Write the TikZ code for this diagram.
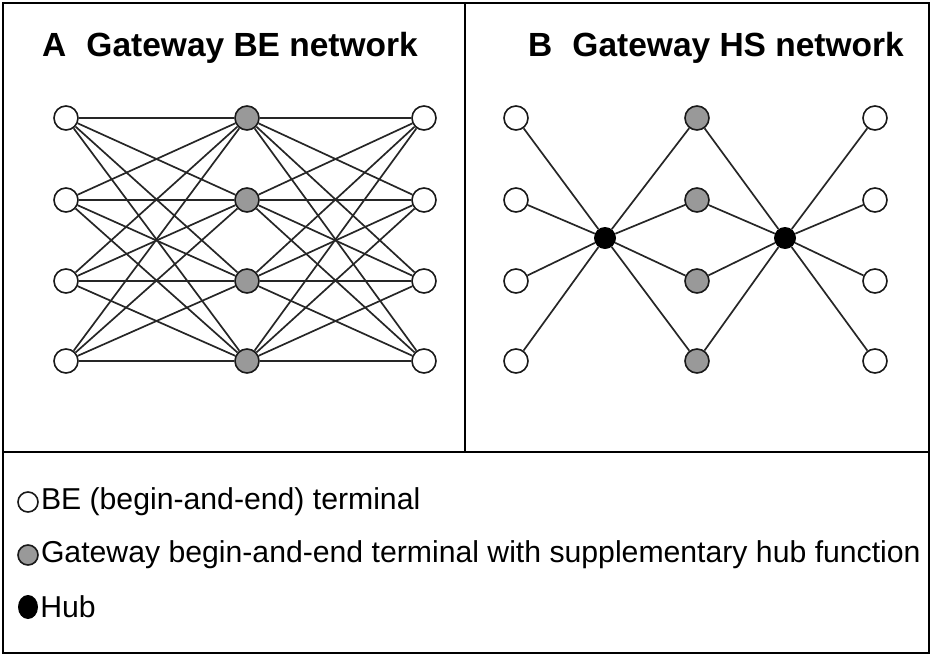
\documentclass[tikz,border=0pt]{standalone}
\usepackage{fontspec}
\setmainfont{Liberation Sans}
\usetikzlibrary{positioning,shapes.geometric}

\begin{document}
\begin{tikzpicture}[x=1pt,y=-1pt]
    \tikzstyle{terminal} = [circle, 
draw=black!90, 
line width=1.6pt, 
fill=white, 
minimum size=24pt, 
inner sep=0pt]

\tikzstyle{gateway} = [terminal, fill=black!40]

\tikzstyle{hub} = [circle, 
fill=black, 
minimum size=22pt, 
inner sep=0pt]

\tikzstyle{link} = [line width=1.7pt, black!85]
\tikzstyle{title} = [font=\fontsize{33.5}{40}\selectfont\bfseries, anchor=west, inner sep=0pt]
\tikzstyle{legendtext} = [font=\fontsize{30.2}{36}\selectfont, anchor=west, inner sep=0pt]

\useasboundingbox (0,0) rectangle (932,656);

% frame
\draw [line width=1.6pt] (3,3) rectangle (929,653);
\draw [line width=1.6pt] (3,452) -- (929,452);
\draw [line width=1.6pt] (465,3) -- (465,452);

\node (titleBE) [title] at (42,48) {A\hspace{0.6em}Gateway BE network};
\node (titleHS) [title] at (528,48) {B\hspace{0.6em}Gateway HS network};

\foreach \row/\y in {1/118,2/200,3/281,4/361} {
    \node (beL\row) [terminal] at (66,\y) {};
    \node (beG\row) [gateway] at (247,\y) {};
    \node (beR\row) [terminal] at (424,\y) {};
    \node (hsL\row) [terminal] at (516,\y) {};
    \node (hsG\row) [gateway] at (697,\y) {};
    \node (hsR\row) [terminal] at (875,\y) {};
}
\node (hubL) [hub] at (605,238) {};
\node (hubR) [hub] at (785,238) {};

\foreach \i in {1,...,4} {
    \foreach \j in {1,...,4} {
        \draw [link] (beL\i) -- (beG\j);
        \draw [link] (beG\i) -- (beR\j);
    }
    \draw [link] (hsL\i) -- (hubL);
    \draw [link] (hubL) -- (hsG\i);
    \draw [link] (hsG\i) -- (hubR);
    \draw [link] (hubR) -- (hsR\i);
}

% legend
\node (keyBE) [terminal, minimum size=20pt] at (28,502) {};
\node (keyBEtext) [legendtext, right=2pt of keyBE] {BE (begin-and-end) terminal};
\node (keyGW) [gateway, minimum size=20pt] at (28,555) {};
\node (keyGWtext) [legendtext, right=2pt of keyGW] {Gateway begin-and-end terminal with supplementary hub function};
\node (keyHub) [hub, ellipse, minimum width=20pt, minimum height=24pt] at (28,607) {};
\node (keyHubtext) [legendtext, right=2pt of keyHub] {Hub};

\end{tikzpicture}
\end{document}
